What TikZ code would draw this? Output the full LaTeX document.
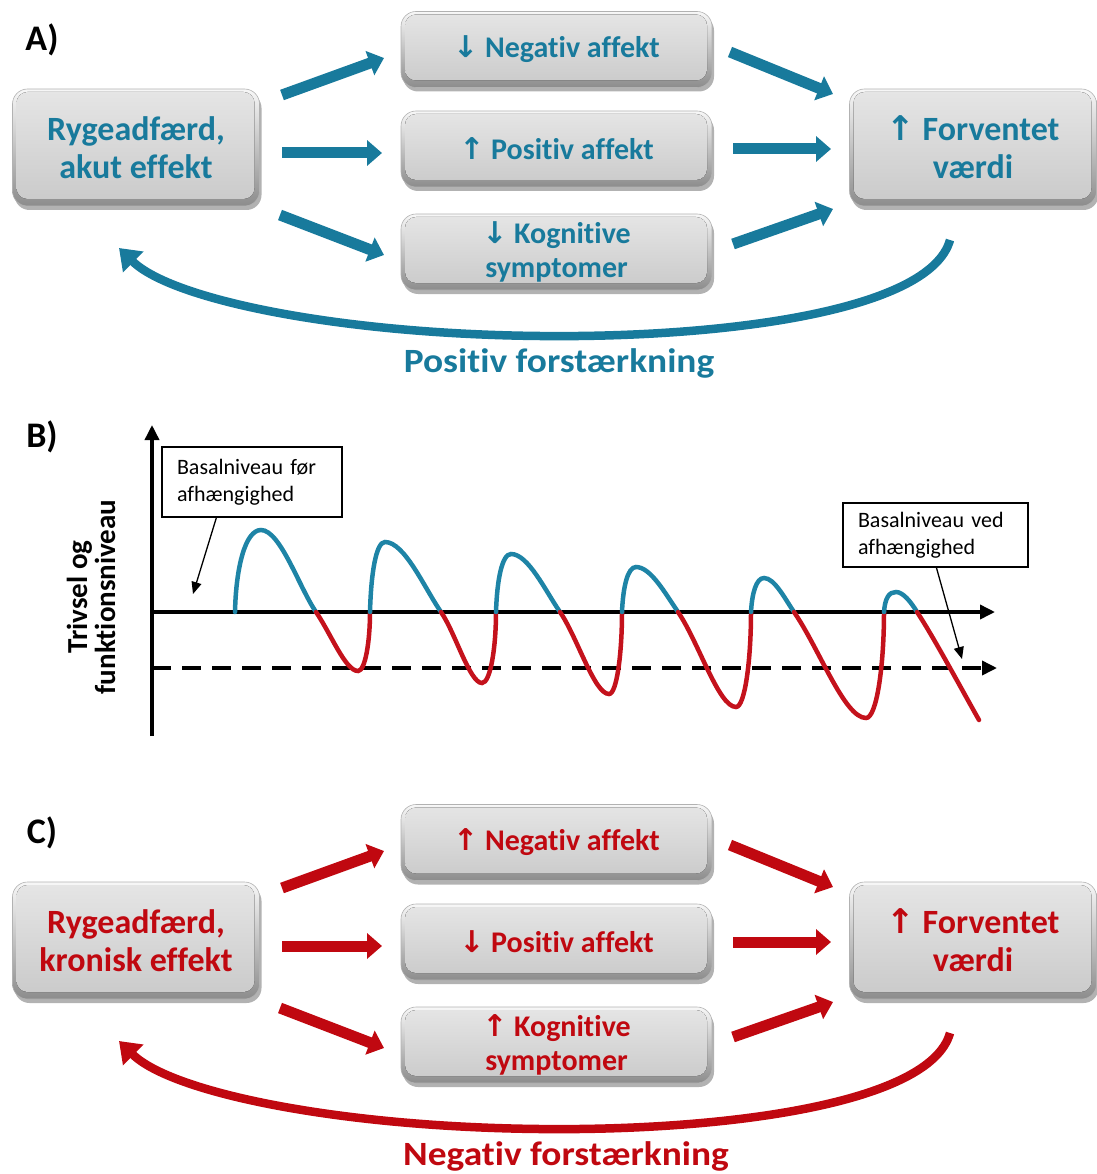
\documentclass[tikz,border=0pt]{standalone}
\usepackage{fontspec}
\setmainfont{Carlito}[Ligatures=NoCommon]
\newfontfamily\widefont{Carlito}[FakeStretch=1.1,Ligatures=NoCommon]
\newfontfamily\arrowfont{DejaVu Sans}
\usetikzlibrary{arrows.meta,shadows,calc}

\definecolor{tealblue}{RGB}{24,122,156}
\definecolor{darkred}{RGB}{192,8,16}
\definecolor{waveblue}{RGB}{30,132,166}
\definecolor{wavered}{RGB}{196,18,28}

\newcommand\uarr{{\arrowfont\bfseries ↑}}
\newcommand\darr{{\arrowfont\bfseries ↓}}
\newcommand\sidefont{\fontsize{34}{38}\selectfont\bfseries}
\newcommand\midfont{\fontsize{30}{34}\selectfont\bfseries}

% one rise-and-fall cycle of the curve: start, peak x, peak y, crossing, trough x, trough y, next start
\newcommand\wavecycle[7]{%
  \draw[wblue] (#1,612) .. controls ({#1+1},{#3+0.45*(612-#3)}) and ({#2-0.6*(#2-#1)},#3) .. (#2,#3)
     .. controls ({#2+0.35*(#4-#2)},#3) and ({#4-0.3*(#4-#2)},{612-1.45*0.3*(#4-#2)}) .. (#4,612);
  \draw[wred] (#4,612) .. controls ({#4+0.35*(#5-#4)},{612+1.45*0.35*(#5-#4)}) and ({#5-0.3*(#5-#4)},#6) .. (#5,#6)
     .. controls ({#5+0.6*(#7-#5)},#6) and (#7,{#6-0.5*(#6-612)}) .. (#7,612);
}

\begin{document}
\begin{tikzpicture}[x=1pt,y=-1pt,
  gbox/.style={rounded corners=15pt, draw=black!30, line width=0.6pt,
    top color=black!3, bottom color=black!45,
    drop shadow={shadow xshift=2pt, shadow yshift=-4pt, opacity=0.3, fill=black},
    align=center, inner sep=0pt,
    path picture={\fill[rounded corners=11pt, top color=black!10, bottom color=black!21]
      ([xshift=4pt,yshift=-3pt]path picture bounding box.north west) rectangle
      ([xshift=-5pt,yshift=7pt]path picture bounding box.south east);}},
  sidebox/.style={gbox, minimum width=247pt, minimum height=117pt, font=\sidefont},
  midbox/.style={gbox, minimum width=311pt, minimum height=76pt, font=\midfont},
  barrow/.style={line width=11pt, -{Triangle[length=15pt,width=25pt]}},
  loopArrow/.style={line width=8.5pt, -{Triangle[length=20pt,width=28pt]}},
  panellabel/.style={font=\fontsize{36}{36}\selectfont\bfseries},
  looplabel/.style={font=\widefont\fontsize{34}{34}\selectfont\bfseries},
  axisline/.style={line width=3.5pt, -{Triangle[length=15pt,width=14pt]}},
  wblue/.style={draw=waveblue, line width=4.5pt, line cap=round},
  wred/.style={draw=wavered, line width=4.5pt, line cap=round},
  annot/.style={draw=black, line width=1.2pt, fill=white, align=left,
    font=\fontsize{22}{27}\selectfont, inner xsep=15pt, inner ysep=8pt},
  pointer/.style={line width=1.3pt, -{Triangle[length=12pt,width=10pt]}}
]
\useasboundingbox (0,0) rectangle (1096,1174);

% ---------------- A) acute effect ----------------
\begin{scope}[text=tealblue]
\node[panellabel, text=black] (labA) at (42,40) {A)};
\node[sidebox] (aL) at (136,147.5) {Rygeadfærd,\\akut effekt};
\node[midbox] (aN) at (556.5,49.5) {\darr\ Negativ affekt};
\node[midbox] (aP) at (556.5,149) {\uarr\ Positiv affekt};
\node[midbox] (aK) at (556.5,252) {\darr\ Kognitive\\symptomer};
\node[sidebox] (aR) at (973,147.5) {\uarr\ Forventet\\værdi};
\node[looplabel] (aLoop) at (559,363) {Positiv forstærkning};
\end{scope}

\coordinate (a1s) at (282,95);  \coordinate (a1e) at (384,58);
\coordinate (a2s) at (282,153); \coordinate (a2e) at (382,153);
\coordinate (a3s) at (280,215); \coordinate (a3e) at (384,255);
\coordinate (a4s) at (730,52);  \coordinate (a4e) at (833,94);
\coordinate (a5s) at (733,149); \coordinate (a5e) at (831,149);
\coordinate (a6s) at (733,244); \coordinate (a6e) at (833,209);
\begin{scope}[draw=tealblue]
\draw[barrow] (a1s) -- (a1e);
\draw[barrow] (a2s) -- (a2e);
\draw[barrow] (a3s) -- (a3e);
\draw[barrow] (a4s) -- (a4e);
\draw[barrow] (a5s) -- (a5e);
\draw[barrow] (a6s) -- (a6e);
\coordinate (aFb) at (950,240);
\coordinate (aFe) at (119,248);
\draw[loopArrow] (aFb) .. controls (930,312) and (720,338) .. (540,336)
  .. controls (340,334) and (172,300) .. (aFe);
\end{scope}

% ---------------- B) level over time ----------------
\node[panellabel] (labB) at (42,437) {B)};
\draw[axisline] (152,736) -- (152,425);
\draw[axisline] (150,612) -- (995,612);
\draw[axisline, dash pattern=on 19pt off 11pt] (152,668) -- (997,668);
\node[rotate=90, align=center, font=\fontsize{29}{28}\selectfont\bfseries] (ylab) at (91,597)
  {Trivsel og\\funktionsniveau};

\wavecycle{235}{261}{530}{316}{358}{671}{370}
\wavecycle{370}{385}{542}{441}{482}{683}{496}
\wavecycle{496}{511}{554}{560}{609}{694}{622}
\wavecycle{622}{636}{567}{678}{736}{707}{751}
\wavecycle{751}{764}{578}{794}{866}{718}{884}
\draw[wblue] (884,612) .. controls (885,598) and (889,592) .. (896,592)
   .. controls (903,592) and (911,602) .. (917,612);
\draw[wred] (917,612) .. controls (933,636) and (962,690) .. (979,720);

\node[annot, text width=150pt, minimum height=70pt] (bx1) at (252,482) {Basalniveau før\\afhængighed};
\node[annot, text width=155pt, minimum height=64pt] (bx2) at (935.5,535) {Basalniveau ved\\afhængighed};
\coordinate (p1s) at ($(bx1.south west)+(55,0)$);
\coordinate (p1e) at (193,594);
\coordinate (p2s) at ($(bx2.south west)+(94,0)$);
\coordinate (p2e) at (962,659);
\draw[pointer] (p1s) -- (p1e);
\draw[pointer] (p2s) -- (p2e);

% ---------------- C) chronic effect ----------------
\begin{scope}[text=darkred]
\node[panellabel, text=black] (labC) at (42,833) {C)};
\node[sidebox] (cL) at (136,940.5) {Rygeadfærd,\\kronisk effekt};
\node[midbox] (cN) at (556.5,842.5) {\uarr\ Negativ affekt};
\node[midbox] (cP) at (556.5,942) {\darr\ Positiv affekt};
\node[midbox] (cK) at (556.5,1045) {\uarr\ Kognitive\\symptomer};
\node[sidebox] (cR) at (973,940.5) {\uarr\ Forventet\\værdi};
\node[looplabel] (cLoop) at (566,1156) {Negativ forstærkning};
\end{scope}

\coordinate (c1s) at (282,888);  \coordinate (c1e) at (384,851);
\coordinate (c2s) at (282,946);  \coordinate (c2e) at (382,946);
\coordinate (c3s) at (280,1008); \coordinate (c3e) at (384,1048);
\coordinate (c4s) at (730,845);  \coordinate (c4e) at (833,887);
\coordinate (c5s) at (733,942);  \coordinate (c5e) at (831,942);
\coordinate (c6s) at (733,1037); \coordinate (c6e) at (833,1002);
\begin{scope}[draw=darkred]
\draw[barrow] (c1s) -- (c1e);
\draw[barrow] (c2s) -- (c2e);
\draw[barrow] (c3s) -- (c3e);
\draw[barrow] (c4s) -- (c4e);
\draw[barrow] (c5s) -- (c5e);
\draw[barrow] (c6s) -- (c6e);
\coordinate (cFb) at (950,1033);
\coordinate (cFe) at (119,1041);
\draw[loopArrow] (cFb) .. controls (930,1105) and (720,1131) .. (540,1129)
  .. controls (340,1127) and (172,1093) .. (cFe);
\end{scope}
\end{tikzpicture}
\end{document}
